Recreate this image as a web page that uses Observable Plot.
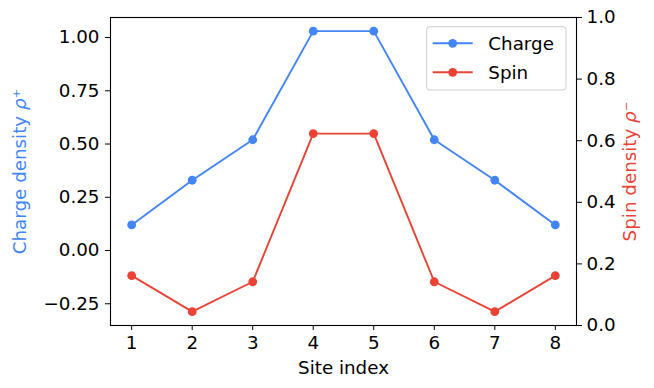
<!DOCTYPE html>
<html><head><meta charset="utf-8">
<script src="https://cdn.jsdelivr.net/npm/d3@7"></script>
<script src="https://cdn.jsdelivr.net/npm/@observablehq/plot@0.6"></script>
<style>body{margin:0;background:#fff}</style>
</head><body><div id="chart"></div>
<script>
const sites = [1, 2, 3, 4, 5, 6, 7, 8];
const charge = [0.12, 0.33, 0.52, 1.03, 1.03, 0.52, 0.33, 0.12];
const spin = [0.162, 0.045, 0.142, 0.623, 0.623, 0.142, 0.045, 0.162];
const chargeTicks = [-0.25, 0, 0.25, 0.5, 0.75, 1.0];
const spinTicks = [0, 0.2, 0.4, 0.6, 0.8, 1.0];
const seriesNames = ["Charge", "Spin"];
const colors = ["#4285F4", "#EA4335"];

const leftDomain = [-0.352, 1.094];
const spinScale = d3.scaleLinear([0, 1], leftDomain);

const chargeData = sites.map((s, i) => ({site: s, v: charge[i]}));
const spinData = sites.map((s, i) => ({site: s, v: spinScale(spin[i])}));

const font = "DejaVu Sans, sans-serif";
const fs = 18.3;
const plot = Plot.plot({
  width: 654, height: 388,
  marginLeft: 110, marginRight: 78, marginTop: 17, marginBottom: 63,
  style: {fontFamily: font, fontSize: fs + "px", color: "black", background: "white"},
  x: {domain: [0.65, 8.35]},
  y: {domain: leftDomain},
  marks: [
    Plot.axisX({ticks: sites, tickFormat: d => String(d), tickSize: 5, tickPadding: 5, fontSize: fs, label: null}),
    Plot.axisY({ticks: chargeTicks, tickFormat: d => d.toFixed(2).replace("-", "\u2212"), tickSize: 5, tickPadding: 6, fontSize: fs, label: null}),
    Plot.axisY({anchor: "right", ticks: spinTicks.map(spinScale), tickFormat: d => spinScale.invert(d).toFixed(1), tickSize: 5, tickPadding: 5, fontSize: fs, label: null}),
    Plot.frame({stroke: "black", strokeWidth: 1.1}),
    Plot.line(chargeData, {x: "site", y: "v", stroke: colors[0], strokeWidth: 1.9}),
    Plot.dot(chargeData, {x: "site", y: "v", fill: colors[0], r: 4.4}),
    Plot.line(spinData, {x: "site", y: "v", stroke: colors[1], strokeWidth: 1.9}),
    Plot.dot(spinData, {x: "site", y: "v", fill: colors[1], r: 4.4}),
    Plot.text(["Site index"], {frameAnchor: "bottom", dy: 43, lineAnchor: "middle", textAnchor: "middle", fill: "black", fontSize: fs}),
    Plot.text(["Charge density \u03C1\u207A"], {frameAnchor: "left", dx: -90, rotate: -90, fill: colors[0], textAnchor: "middle", lineAnchor: "middle", fontSize: fs}),
    Plot.text(["Spin density \u03C1\u207B"], {frameAnchor: "right", dx: 54, rotate: -90, fill: colors[1], textAnchor: "middle", lineAnchor: "middle", fontSize: fs})
  ]
});
document.getElementById("chart").appendChild(plot);

const svg = d3.select(plot);
// italic rho in the axis labels
svg.selectAll("text").each(function() {
  const t = d3.select(this);
  const s = t.text();
  const k = s.indexOf("\u03C1");
  if (k > 0 && (s.startsWith("C") || s.startsWith("S"))) {
    t.text(null);
    t.append("tspan").text(s.slice(0, k));
    t.append("tspan").attr("font-style", "italic").text("\u03C1");
    t.append("tspan").text(s.slice(k + 1));
  }
});

// legend
const lg = svg.append("g").attr("font-family", font).attr("font-size", fs + "px").attr("text-anchor", "start");
lg.append("rect").attr("x", 426.7).attr("y", 26.7).attr("width", 139.3).attr("height", 63.3)
  .attr("rx", 3).attr("fill", "white").attr("fill-opacity", 0.8).attr("stroke", "#cccccc");
seriesNames.forEach((name, i) => {
  const cy = 43.3 + i * 29;
  lg.append("line").attr("x1", 432.7).attr("x2", 472.7).attr("y1", cy).attr("y2", cy)
    .attr("stroke", colors[i]).attr("stroke-width", 1.9);
  lg.append("circle").attr("cx", 452.7).attr("cy", cy).attr("r", 4.4).attr("fill", colors[i]);
  lg.append("text").attr("x", 488.3).attr("y", cy).attr("dy", "0.35em").attr("fill", "black").text(name);
});
</script>
</body></html>
